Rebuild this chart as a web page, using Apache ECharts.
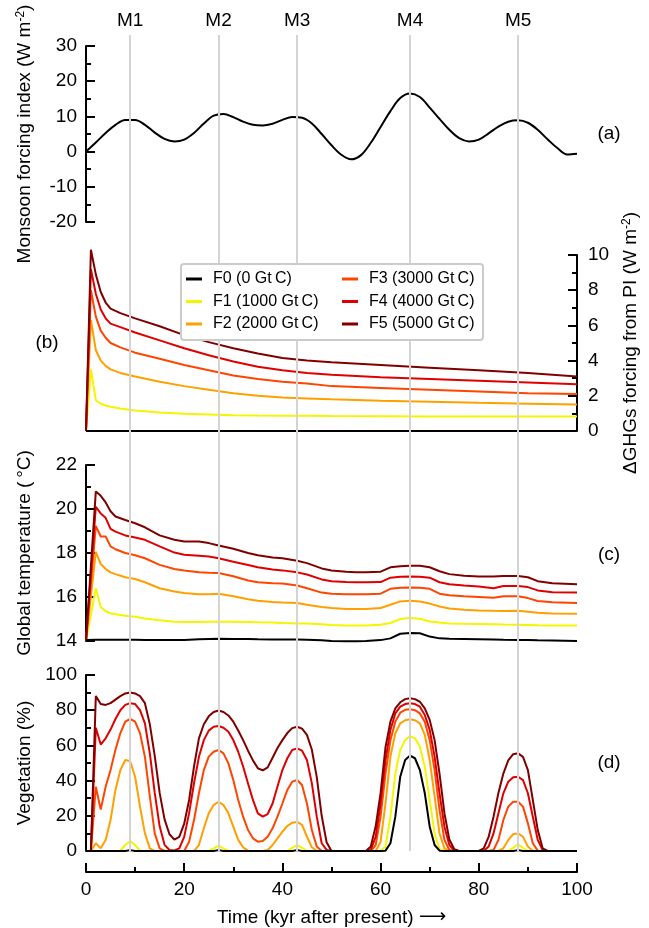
<!DOCTYPE html>
<html><head><meta charset="utf-8">
<script src="https://cdn.jsdelivr.net/npm/echarts@6/dist/echarts.min.js"></script>
<style>html,body{margin:0;padding:0;background:#fff}#c{width:649px;height:928px}</style>
</head><body><div id="c"></div>
<script>
// ---------- data ----------
const seriesNames = ['F0 (0 Gt\u2009C)', 'F1 (1000 Gt\u2009C)', 'F2 (2000 Gt\u2009C)', 'F3 (3000 Gt\u2009C)', 'F4 (4000 Gt\u2009C)', 'F5 (5000 Gt\u2009C)'];
const seriesColors = ['#000000', '#f5f500', '#ffa000', '#ff4500', '#e00000', '#800000'];
const mNames = ['M1', 'M2', 'M3', 'M4', 'M5'];
const mTimes = [9, 27, 43, 66, 88];

// (a) monsoon forcing index
const tA = [0,2,4,6,8,10,12,14,16,18,20,22,24,26,28,30,32,34,36,38,40,42,44,46,48,50,52,54,56,58,60,62,64,66,68,70,72,74,76,78,80,82,84,86,88,90,92,94,96,98,100];
const monsoon = [0.0,2.6,5.3,7.6,9.0,9.0,7.6,5.4,3.6,2.9,3.4,5.3,8.0,10.2,10.7,9.8,8.5,7.6,7.4,7.9,9.0,9.8,9.6,8.0,5.0,1.8,-0.9,-2.2,-1.0,2.5,7.0,11.5,15.2,16.5,15.5,12.5,9.3,6.2,3.8,2.9,3.4,5.2,7.1,8.5,8.9,8.2,6.2,3.5,1.0,-0.8,-0.6];

// (b) GHG forcing
const tB = [0,1,2,3,4,5,7,10,15,20,25,30,35,40,45,50,60,70,80,90,100];
const ghgF0 = [0,0,0,0,0,0,0,0,0,0,0,0,0,0,0,0,0,0,0,0,0];
const ghgF1 = [0,3.5,1.75,1.55,1.45,1.38,1.28,1.17,1.05,0.98,0.94,0.9,0.88,0.87,0.86,0.85,0.84,0.83,0.83,0.82,0.82];
const ghgF2 = [0,6.3,4.6,4.0,3.7,3.5,3.3,3.1,2.8,2.55,2.35,2.15,2.0,1.9,1.85,1.8,1.72,1.66,1.6,1.55,1.5];
const ghgF3 = [0,8.0,6.5,5.7,5.3,5.0,4.75,4.45,4.1,3.75,3.45,3.15,2.95,2.8,2.7,2.55,2.45,2.35,2.25,2.15,2.1];
const ghgF4 = [0,9.2,7.8,6.9,6.4,6.1,5.9,5.6,5.15,4.7,4.3,3.95,3.65,3.45,3.3,3.2,3.05,2.95,2.85,2.75,2.65];
const ghgF5 = [0,10.3,8.9,7.9,7.3,6.95,6.7,6.4,5.95,5.45,5.05,4.7,4.4,4.15,4.0,3.9,3.75,3.6,3.45,3.3,3.1];

// (c) global temperature
const tC = [0,2,3,4,5,6,8,10,12,15,18,20,23,25,27,30,33,35,38,40,43,45,48,50,53,55,57,60,62,64,66,68,70,72,74,77,80,83,85,88,90,92,95,100];
const tempF0 = [14.05,14.06,14.06,14.06,14.06,14.06,14.06,14.06,14.05,14.04,14.04,14.05,14.08,14.09,14.1,14.09,14.09,14.08,14.07,14.07,14.07,14.06,14.03,14.0,13.99,13.99,14.0,14.04,14.12,14.33,14.36,14.35,14.2,14.12,14.1,14.09,14.08,14.07,14.06,14.05,14.05,14.03,14.02,14.0];
const tempF1 = [14,16.4,15.55,15.35,15.26,15.22,15.15,15.1,15.02,14.94,14.87,14.86,14.86,14.87,14.88,14.87,14.86,14.85,14.84,14.82,14.8,14.79,14.76,14.73,14.71,14.7,14.7,14.74,14.82,15.0,15.04,15.01,14.89,14.84,14.8,14.78,14.77,14.76,14.75,14.74,14.73,14.72,14.71,14.7];
const tempF2 = [14,18.05,17.5,17.27,17.12,17.04,16.9,16.82,16.67,16.4,16.25,16.18,16.12,16.12,16.15,16.03,15.9,15.83,15.77,15.75,15.73,15.65,15.55,15.5,15.46,15.45,15.46,15.5,15.65,15.8,15.83,15.8,15.7,15.57,15.48,15.42,15.39,15.37,15.36,15.38,15.33,15.28,15.25,15.24];
const tempF3 = [14,19.23,18.75,18.75,18.3,18.17,18.0,17.9,17.76,17.46,17.27,17.2,17.12,17.1,17.09,16.94,16.75,16.67,16.63,16.61,16.52,16.4,16.2,16.15,16.13,16.13,16.13,16.15,16.37,16.42,16.43,16.42,16.37,16.15,16.08,16.03,16.0,15.97,16.03,16.03,15.95,15.82,15.76,15.73];
const tempF4 = [14,20.1,19.8,19.6,19.1,18.97,18.8,18.7,18.6,18.3,18.02,17.92,17.88,17.84,17.76,17.6,17.45,17.35,17.25,17.21,17.12,17.02,16.8,16.72,16.68,16.67,16.67,16.68,16.88,16.92,16.93,16.92,16.88,16.67,16.58,16.52,16.48,16.4,16.5,16.5,16.45,16.3,16.22,16.2];
const tempF5 = [14,20.8,20.6,20.3,19.9,19.66,19.5,19.35,19.17,18.8,18.6,18.52,18.52,18.45,18.34,18.19,18.0,17.9,17.8,17.76,17.65,17.54,17.3,17.2,17.15,17.13,17.13,17.15,17.35,17.4,17.42,17.42,17.35,17.17,17.04,16.97,16.93,16.93,16.96,16.95,16.9,16.72,16.63,16.58];

// (d) vegetation, one value per kyr (0..100)
const tD = [0,1,2,3,4,5,6,7,8,9,10,11,12,13,14,15,16,17,18,19,20,21,22,23,24,25,26,27,28,29,30,31,32,33,34,35,36,37,38,39,40,41,42,43,44,45,46,47,48,49,50,51,52,53,54,55,56,57,58,59,60,61,62,63,64,65,66,67,68,69,70,71,72,73,74,75,76,77,78,79,80,81,82,83,84,85,86,87,88,89,90,91,92,93,94,95,96,97,98,99,100];
const vegF0 = [0,0,0,0,0,0,0,0,0,0.5,0,0,0,0,0,0,0,0,0,0,0,0,0,0,0,0,0,0.5,0,0,0,0,0,0,0,0,0,0,0,0,0,0,0,0.5,0,0,0,0,0,0,0,0,0,0,0,0,0,0,0,0,0,0.2,4.4,19.5,42.2,51.7,54.2,52.7,46,32.8,13.8,3.4,0.2,0,0,0,0,0,0,0,0,0,0,0,0,0,0,0,0.5,0,0,0,0,0,0,0,0,0,0,0,0];
const vegF1 = [0,0,0,0,0,0,0,0.2,3.4,5.7,3.4,0.2,0,0,0,0,0,0,0,0,0,0,0,0,0,0,1.5,3,1.5,0,0,0,0,0,0,0,0,0,0,0,0,0,1.8,3.4,1.8,0,0,0,0,0,0,0,0,0,0,0,0,0,0,0,0,2.5,19.5,44,57.4,63,65.3,64,59.3,47.9,29,10,1,0,0,0,0,0,0,0,0,0,0,0,0,0,0,1.8,3.8,1.8,0,0,0,0,0,0,0,0,0,0,0];
const vegF2 = [0,0,4.4,1.5,6.3,17.6,34.7,46,51.7,51,42.2,25.2,10,1.5,0,0,0,0,0,0,0,0,0,3.4,12.9,21.4,26.1,28,26.1,21.4,13.8,6.3,2.1,0.2,0,0,0,0.6,3.4,7.2,11,14.2,16.1,16.5,14.8,8.1,2.1,0,0,0,0,0,0,0,0,0,0,0,0,0,5.3,27,53.6,66.9,72.5,74.3,74.8,74.3,72.5,66,51.7,30.9,10,1.5,0,0,0,0,0,0,0,0,0,0,0,1.5,6.3,9.5,10,8.1,2.5,0,0,0,0,0,0,0,0,0,0];
const vegF3 = [0,0,36.5,23.5,36.5,46,57.5,67,73.5,75,73.5,67,53.5,31,10,1.5,0,0,0,0,0,5.3,17.6,32.8,46,53.6,56.4,57.4,55.5,49.8,40.3,29,19.5,11.9,7.2,5.3,5.7,8.1,12.9,19.5,27,34.7,39.4,40.3,37.5,27,11.9,2.5,0,0,0,0,0,0,0,0,0,0,0,3.4,19.5,44,63,73.5,78.6,80.2,80.5,80,78.2,73.5,63,46,23.3,6.3,0.6,0,0,0,0,0,0,0,0,0.6,6.3,17.6,25.2,28,28,25.2,15.7,4.4,0.2,0,0,0,0,0,0,0,0];
const vegF4 = [0,0,70,60.5,64,69,75,80,83,84,83.5,80,72.5,55.5,33,14,3.5,0.6,0.3,1.5,8,21.5,38.5,53.5,63,68.4,70.6,71,70,67.8,63,56.4,48,38.4,29,21.4,19.5,21,27,36.6,46,52.7,57.4,58.3,57,51.7,38.4,19.5,4.4,0.6,0,0,0,0,0,0,0,0,0.6,8,27,51.7,68.8,78.2,82,83.5,84,83.5,82,77.3,68.8,53.6,32.8,13.8,3.4,0.2,0,0,0,0,0,0,2.5,10,21.4,32.8,39.4,41.9,42.2,40.3,32.8,19.5,6.3,0.6,0,0,0,0,0,0,0];
const vegF5 = [0,0,88,83.5,83,84,86,88,89.5,90,89.5,88,84,72,54,33,18,9.5,6.5,8,15.5,29,48,64,72,76.5,79,79.8,79,77,73.5,68.5,63,57,51.5,47,45.8,47.5,53,58.5,63,67,69.8,70.6,69.5,66,57.5,42,20,5,0,0,0,0,0,0,0,0,2.5,14,33,59,73.5,81,84.5,86.3,86.8,86.3,84.8,81,74.5,63,44,21.5,6.5,1,0,0,0,0,0,1.5,8,19.5,33,44,51.5,55,55.5,53.5,46,29,12,1.5,0,0,0,0,0,0,0];

// tick settings
const tickA = {min: -20, max: 30, interval: 10};
const tickB = {min: 0, max: 10, interval: 2};
const tickC = {min: 14, max: 22, interval: 2};
const tickD = {min: 0, max: 100, interval: 20};
const tickX = {min: 0, max: 100, interval: 20};

// ---------- chart ----------
const FONT = '"Liberation Sans", Arial, Helvetica, sans-serif';
const FS = 19;
const chart = echarts.init(document.getElementById('c'), null, {renderer: 'canvas'});

const L = 86, R = 72;
const grids = [
  {left: L, right: R, top: 46, height: 176},
  {left: L, right: R, top: 255, height: 176},
  {left: L, right: R, top: 465, height: 176},
  {left: L, right: R, top: 675, height: 176},
  {left: L, right: R, top: 35, height: 816}
].map(g => Object.assign({outerBoundsMode: 'none', containLabel: false}, g));

const blackLine = {show: true, onZero: false, lineStyle: {color: '#000', width: 2}};
const nameStyle = {fontSize: FS, color: '#000', fontFamily: FONT,
  rich: {sup: {fontSize: 12, verticalAlign: 'top', fontFamily: FONT, color: '#000'}}};

function yAx(gi, t, pos, name, gap, margin) {
  return {
    gridIndex: gi, type: 'value', position: pos, min: t.min, max: t.max, interval: t.interval,
    axisLine: blackLine,
    axisTick: {show: true, inside: true, length: 9, lineStyle: {color: '#000', width: 2}},
    minorTick: {show: true, splitNumber: 2, length: 5, lineStyle: {color: '#000', width: 2}},
    splitLine: {show: false}, minorSplitLine: {show: false},
    axisLabel: {fontSize: FS, color: '#000', fontFamily: FONT, margin: margin},
    name: name, nameLocation: 'middle', nameRotate: 90, nameGap: gap, nameTextStyle: nameStyle
  };
}

const xAxes = [0, 1, 2, 4].map(gi => ({gridIndex: gi, type: 'value', min: 0, max: 100, show: false}));
xAxes.splice(3, 0, {
  gridIndex: 3, type: 'value', min: tickX.min, max: tickX.max, interval: tickX.interval, offset: 21,
  axisLine: blackLine,
  axisTick: {show: true, inside: true, length: 9, lineStyle: {color: '#000', width: 2}},
  minorTick: {show: true, splitNumber: 2, length: 5, lineStyle: {color: '#000', width: 2}},
  splitLine: {show: false},
  axisLabel: {fontSize: FS, color: '#000', fontFamily: FONT, margin: 8},
  name: 'Time (kyr after present) {arr|\u27f6}', nameLocation: 'middle', nameGap: 36,
  nameTextStyle: {fontSize: FS, color: '#000', fontFamily: FONT,
    rich: {arr: {fontSize: 19, fontFamily: '"DejaVu Sans", sans-serif', color: '#000'}}}
});

const yAxes = [
  yAx(0, tickA, 'left', 'Monsoon forcing index (W m{sup|-2})', 52, 9),
  yAx(1, tickB, 'right', '\u0394GHGs forcing from PI (W m{sup|-2})', 44, 11),
  yAx(2, tickC, 'left', 'Global temperature (\u2009\u00b0C)', 52, 9),
  yAx(3, tickD, 'left', 'Vegetation (%)', 52, 9),
  {gridIndex: 4, type: 'value', min: 0, max: 1, show: false}
];

const ghg = [ghgF0, ghgF1, ghgF2, ghgF3, ghgF4, ghgF5];
const temp = [tempF0, tempF1, tempF2, tempF3, tempF4, tempF5];
const veg = [vegF0, vegF1, vegF2, vegF3, vegF4, vegF5];

function lineSeries(name, color, xs, ys, ai, z, clip) {
  return {
    type: 'line', name: name, xAxisIndex: ai, yAxisIndex: ai,
    data: xs.map((x, k) => [x, ys[k]]),
    symbol: 'none', showSymbol: false, smooth: false, clip: clip,
    lineStyle: {color: color, width: 2}, itemStyle: {color: color},
    z: z, silent: true, animation: false
  };
}

const series = [];
// vertical markers (drawn under the data)
series.push({
  type: 'line', xAxisIndex: 4, yAxisIndex: 4, data: [], z: 1, silent: true, animation: false,
  markLine: {
    symbol: ['none', 'none'], silent: true, animation: false,
    lineStyle: {color: '#d4d4d4', width: 2, type: 'solid'},
    label: {show: true, position: 'end', formatter: '{b}', color: '#000', fontSize: FS, fontFamily: FONT, distance: 5},
    emphasis: {disabled: true},
    data: mTimes.map((x, i) => ({xAxis: x, name: mNames[i]}))
  }
});
// panel a
series.push(Object.assign(lineSeries('monsoon', '#000', tA, monsoon, 0, 3, true), {smooth: 0.35}));
// panels b,c,d : F1..F5 first, F0 last (on top)
[1, 2, 3, 4, 5, 0].forEach(i => {
  const z = i === 0 ? 4 : 3;
  series.push(lineSeries(seriesNames[i], seriesColors[i], tB, ghg[i], 1, z, false));
  series.push(lineSeries(seriesNames[i], seriesColors[i], tC, temp[i], 2, z, false));
  series.push(lineSeries(seriesNames[i], seriesColors[i], tD, veg[i], 3, z, false));
});

const legendCommon = {
  orient: 'vertical', top: 271, itemWidth: 16, itemHeight: 3, itemGap: 6.5, icon: 'rect',
  padding: 0, selectedMode: false, z: 20,
  textStyle: {fontSize: 16, lineHeight: 16, color: '#000', fontFamily: FONT, padding: [0, 0, 0, 6]}
};

const labelStyle = t => ({text: t, font: FS + 'px ' + FONT, fill: '#000', textAlign: 'center', textVerticalAlign: 'middle', align: 'center', verticalAlign: 'middle'});

const option = {
  animation: false,
  backgroundColor: '#fff',
  grid: grids,
  xAxis: xAxes,
  yAxis: yAxes,
  legend: [
    Object.assign({}, legendCommon, {left: 186, data: seriesNames.slice(0, 3)}),
    Object.assign({}, legendCommon, {left: 342, data: seriesNames.slice(3)})
  ],
  graphic: [
    {type: 'rect', z: 10, silent: true, shape: {x: 181, y: 264, width: 302, height: 76, r: 3},
     style: {fill: '#fff', stroke: '#cccccc', lineWidth: 2}},
    {type: 'text', x: 609, y: 134, z: 10, style: labelStyle('(a)')},
    {type: 'text', x: 47, y: 343, z: 10, style: labelStyle('(b)')},
    {type: 'text', x: 609, y: 555, z: 10, style: labelStyle('(c)')},
    {type: 'text', x: 609, y: 763, z: 10, style: labelStyle('(d)')}
  ],
  series: series
};
chart.setOption(option);
</script>
</body></html>
